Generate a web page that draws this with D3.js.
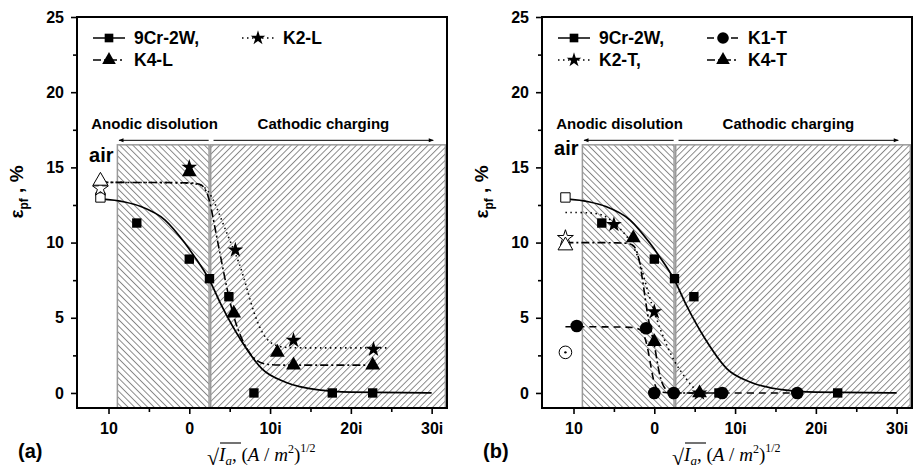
<!DOCTYPE html>
<html>
<head>
<meta charset="utf-8">
<script src="https://cdn.jsdelivr.net/npm/d3@7"></script>
<style>
  body { margin: 0; background: #fff; }
  svg { display: block; font-family: "Liberation Sans", Arial, sans-serif; }
</style>
</head>
<body>
<svg id="chart" width="913" height="472"></svg>
<script>
// ---- data ----
const xTicks = [-10, 0, 10, 20, 30];
const xTickLabels = ['10', '0', '10i', '20i', '30i'];
const xMinorTicks = [-5, 5, 15, 25];
const yTicks = [0, 5, 10, 15, 20, 25];
const yMinorTicks = [2.5, 7.5, 12.5, 17.5, 22.5];

// 9Cr-2W (same steel in both panels)
const cr9wPoints = [[-6.5, 11.3], [0, 8.9], [2.5, 7.6], [4.9, 6.4], [8, 0], [17.7, 0], [22.7, 0]];
const cr9wAir = [[-11, 13.0]];
const cr9wFit = [[-11, 12.9], [-8, 12.7], [-6, 12.4], [-3, 11.5], [-0.6, 10.0], [0.6, 9.1], [2.5, 7.5],
                 [4, 5.8], [6.4, 3.5], [9, 1.6], [12, 0.7], [16, 0.2], [20, 0.05], [30, 0]];

// panel (a) longitudinal
const k4LPoints = [[0, 14.7], [5.5, 5.3], [10.9, 2.7], [12.9, 1.85], [22.7, 1.85]];
const k4LAir = [[-11, 14.1]];
const k4LFit = [[-11, 14], [0.5, 14], [1.6, 13.9], [2.4, 13.2], [3.1, 11.2], [3.9, 9], [4.7, 6.8], [5.5, 5.0],
                [6.5, 3.5], [7.8, 2.3], [9.2, 1.85], [12, 1.85], [23.5, 1.85]];
const k2LPoints = [[0, 15.0], [5.7, 9.5], [12.9, 3.5], [22.8, 2.9]];
const k2LAir = [[-11, 13.6]];
const k2LFit = [[-11, 14], [0.5, 14], [1.8, 13.8], [2.8, 13.1], [3.8, 11.8], [4.8, 10.4], [5.7, 9.3], [6.6, 8],
                [7.6, 6], [8.6, 4.4], [9.7, 3.4], [11.2, 3.0], [14, 3.0], [24.5, 3.0]];

// panel (b) transverse
const k1TPoints = [[-9.6, 4.45], [-1.0, 4.3], [0, 0], [2.4, 0], [8.4, 0], [17.7, 0]];
const k1TAir = [[-11, 2.7]];
const k1TFit = [[-11, 4.4], [-3, 4.4], [-1.7, 4.3], [-1.1, 3.7], [-0.6, 2.4], [-0.2, 1.0], [0.3, 0.1], [1.2, 0], [5, 0], [17.7, 0]];
const k2TPoints = [[-5, 11.2], [0, 5.4], [5.6, 0]];
const k2TAir = [[-11, 10.3]];
const k2TFit = [[-11, 12], [-7.5, 12], [-6, 11.8], [-4.5, 11.1], [-3, 10.2], [-1.9, 9], [-1.2, 7.5], [-0.5, 6.2],
                [0, 5.4], [1, 3.8], [2.5, 2], [4, 0.9], [5, 0.2], [6, 0]];
const k4TPoints = [[-2.6, 10.3], [0, 3.4], [5.6, 0]];
const k4TAir = [[-11, 9.8]];
const k4TFit = [[-11, 10], [-3.5, 10], [-2.5, 9.9], [-1.9, 9.1], [-1.3, 7], [-0.7, 4.6], [0, 3.4], [0.5, 1.5],
                [1.1, 0.3], [2, 0], [4, 0], [7, 0]];

// shaded regions (data units)
const anodicRange = [-8.9, 2.45];
const cathodicRange = [2.65, 31.7];
const regionTop = 16.5;

// ---- layout ----
const config = {
    width: 913, height: 472,
    plotWidth: 370, plotHeight: 391, top: 17,
    panels: [
        { id: 'a', left: 77, label: '(a)', airY: 15.35,
          series: [
            { name: '9Cr-2W,', symbol: 'square', dash: null, pts: cr9wPoints, air: cr9wAir, fit: cr9wFit, lx: 93, ly: 38 },
            { name: 'K2-L', symbol: 'star', dash: '1.5,3.5', pts: k2LPoints, air: k2LAir, fit: k2LFit, lx: 242, ly: 38 },
            { name: 'K4-L', symbol: 'triangle', dash: '8,3,2,3', pts: k4LPoints, air: k4LAir, fit: k4LFit, lx: 93, ly: 60 }
          ] },
        { id: 'b', left: 542, label: '(b)', airY: 15.8,
          series: [
            { name: '9Cr-2W,', symbol: 'square', dash: null, pts: cr9wPoints.filter(d => d[0] !== 17.7), air: cr9wAir, fit: cr9wFit, lx: 558, ly: 38 },
            { name: 'K1-T', symbol: 'circle', dash: '7,5', pts: k1TPoints, air: k1TAir, fit: k1TFit, lx: 707, ly: 38 },
            { name: 'K2-T,', symbol: 'star', dash: '1.5,3.5', pts: k2TPoints, air: k2TAir, fit: k2TFit, lx: 558, ly: 60 },
            { name: 'K4-T', symbol: 'triangle', dash: '8,3,2,3', pts: k4TPoints, air: k4TAir, fit: k4TFit, lx: 707, ly: 60 }
          ] }
    ]
};

const symbolTypes = { square: d3.symbolSquare, star: d3.symbolStar, triangle: d3.symbolTriangle, circle: d3.symbolCircle };
const symbolSizes = { square: 88, star: 78, triangle: 95, circle: 125 };

const svg = d3.select('#chart');

// hatch patterns
const defs = svg.append('defs');
[['hatchBack', -45], ['hatchFwd', 45]].forEach(([id, ang]) => {
    defs.append('pattern')
        .attr('id', id)
        .attr('patternUnits', 'userSpaceOnUse')
        .attr('width', 4.6).attr('height', 10)
        .attr('patternTransform', `rotate(${ang})`)
      .append('line')
        .attr('x1', 0.5).attr('y1', 0).attr('x2', 0.5).attr('y2', 10)
        .attr('stroke', '#7a7a7a').attr('stroke-width', 0.9);
});
defs.append('marker')
    .attr('id', 'arrow')
    .attr('viewBox', '0 0 10 10')
    .attr('refX', 9).attr('refY', 5)
    .attr('markerWidth', 7).attr('markerHeight', 5)
    .attr('orient', 'auto')
  .append('path')
    .attr('d', 'M0,1 L10,5 L0,9 z')
    .attr('fill', '#000');

const y = d3.scaleLinear().domain([-1, 25]).range([config.top + config.plotHeight, config.top]);

config.panels.forEach(panel => {
    const x = d3.scaleLinear().domain([-13.9, 31.9]).range([panel.left, panel.left + config.plotWidth]);
    const g = svg.append('g');

    // hatched regions
    g.append('rect')
        .attr('x', x(anodicRange[0])).attr('y', y(regionTop))
        .attr('width', x(anodicRange[1]) - x(anodicRange[0]))
        .attr('height', y(-1) - y(regionTop))
        .attr('fill', 'url(#hatchBack)')
        .attr('stroke', '#9a9a9a').attr('stroke-width', 1.5);
    g.append('rect')
        .attr('x', x(cathodicRange[0])).attr('y', y(regionTop))
        .attr('width', x(cathodicRange[1]) - x(cathodicRange[0]))
        .attr('height', y(-1) - y(regionTop))
        .attr('fill', 'url(#hatchFwd)')
        .attr('stroke', '#9a9a9a').attr('stroke-width', 1.5);

    // axes
    const xAxis = d3.axisBottom(x).tickValues(xTicks)
        .tickFormat((d, i) => xTickLabels[i]).tickSize(6).tickPadding(9);
    const xMinor = d3.axisBottom(x).tickValues(xMinorTicks).tickFormat('').tickSize(4);
    const yAxis = d3.axisLeft(y).tickValues(yTicks).tickSize(6).tickPadding(7);
    const yMinor = d3.axisLeft(y).tickValues(yMinorTicks).tickFormat('').tickSize(4);

    const bottom = config.top + config.plotHeight;
    [xAxis, xMinor].forEach(ax => g.append('g').attr('class', 'axis')
        .attr('transform', `translate(0,${bottom})`).call(ax));
    [yAxis, yMinor].forEach(ax => g.append('g').attr('class', 'axis')
        .attr('transform', `translate(${panel.left},0)`).call(ax));
    g.selectAll('.axis .domain').remove();
    g.selectAll('.axis line').attr('stroke', '#000').attr('stroke-width', 1.6);
    g.selectAll('.axis text')
        .attr('font-size', 16).attr('font-weight', 'bold').attr('fill', '#000')
        .attr('font-family', '"Liberation Sans", Arial, sans-serif');

    // frame
    g.append('rect')
        .attr('x', panel.left).attr('y', config.top)
        .attr('width', config.plotWidth).attr('height', config.plotHeight)
        .attr('fill', 'none').attr('stroke', '#000').attr('stroke-width', 2);

    // region annotations
    g.append('line')
        .attr('x1', x(2.4)).attr('x2', x(-8.7)).attr('y1', y(16.8)).attr('y2', y(16.8))
        .attr('stroke', '#000').attr('stroke-width', 1).attr('marker-end', 'url(#arrow)');
    g.append('line')
        .attr('x1', x(3.0)).attr('x2', x(30.2)).attr('y1', y(16.8)).attr('y2', y(16.8))
        .attr('stroke', '#000').attr('stroke-width', 1).attr('marker-end', 'url(#arrow)');
    g.append('text').attr('x', x(-4.3)).attr('y', y(17.55))
        .attr('text-anchor', 'middle').attr('font-size', 15).attr('font-weight', 'bold')
        .text('Anodic disolution');
    g.append('text').attr('x', x(16.6)).attr('y', y(17.55))
        .attr('text-anchor', 'middle').attr('font-size', 15).attr('font-weight', 'bold')
        .text('Cathodic charging');
    g.append('text').attr('x', x(-12.4)).attr('y', y(panel.airY))
        .attr('font-size', 20).attr('font-weight', 'bold')
        .text('air');

    // fitted lines: solid fit passes through its points, dashed guides are smoothed
    const fitLine = d3.line().x(d => x(d[0])).y(d => y(d[1])).curve(d3.curveMonotoneX);
    const guideLine = d3.line().x(d => x(d[0])).y(d => y(d[1])).curve(d3.curveBasis);
    panel.series.forEach(s => {
        g.append('path')
            .datum(s.fit)
            .attr('d', s.dash ? guideLine : fitLine)
            .attr('fill', 'none').attr('stroke', '#000')
            .attr('stroke-width', s.dash ? 1.6 : 1.7)
            .attr('stroke-dasharray', s.dash);
    });

    // markers
    panel.series.forEach(s => {
        const sym = d3.symbol().type(symbolTypes[s.symbol]).size(symbolSizes[s.symbol]);
        g.selectAll(null).data(s.pts).join('path')
            .attr('transform', d => `translate(${x(d[0])},${y(d[1])})`)
            .attr('d', sym).attr('fill', '#000');
        g.selectAll(null).data(s.air).join('path')
            .attr('transform', d => `translate(${x(d[0])},${y(d[1])})`)
            .attr('d', sym).attr('fill', '#fff').attr('stroke', '#000').attr('stroke-width', 1);
        if (s.symbol === 'circle') {
            g.selectAll(null).data(s.air).join('circle')
                .attr('cx', d => x(d[0])).attr('cy', d => y(d[1])).attr('r', 1.2).attr('fill', '#000');
        }

        // legend entry
        g.append('line')
            .attr('x1', s.lx).attr('x2', s.lx + 32).attr('y1', s.ly).attr('y2', s.ly)
            .attr('stroke', '#000').attr('stroke-width', 1.5).attr('stroke-dasharray', s.dash);
        g.append('path')
            .attr('transform', `translate(${s.lx + 16},${s.ly})`)
            .attr('d', d3.symbol().type(symbolTypes[s.symbol]).size(symbolSizes[s.symbol] * 0.85)())
            .attr('fill', '#000');
        g.append('text')
            .attr('x', s.lx + 41).attr('y', s.ly).attr('dy', '0.36em')
            .attr('font-size', 17.5).attr('font-weight', 'bold')
            .text(s.name);
    });

    // y axis title
    const yt = g.append('text')
        .attr('transform', `translate(${panel.left - 54},192) rotate(-90)`)
        .attr('text-anchor', 'middle').attr('font-size', 19).attr('font-weight', 'bold');
    yt.append('tspan').text('ε');
    yt.append('tspan').attr('font-size', 12).attr('dy', 5).text('pf');
    yt.append('tspan').attr('dy', -5).text(' , %');

    // x axis title: sqrt(I_a), (A/m^2)^(1/2)
    const xt = g.append('g');
    const tx = g.append('text')
        .attr('x', x(0) + 72).attr('y', 461)
        .attr('text-anchor', 'middle')
        .attr('font-family', '"Liberation Serif", "Times New Roman", serif')
        .attr('font-size', 19);
    tx.append('tspan').attr('font-style', 'normal').attr('font-size', 22).attr('dy', 4).text('√');
    tx.append('tspan').attr('font-style', 'italic').attr('dy', -4).text('I');
    tx.append('tspan').attr('font-style', 'italic').attr('font-size', 13).attr('dy', 4).text('a');
    tx.append('tspan').attr('dy', -4).text(',  (');
    tx.append('tspan').attr('font-style', 'italic').text('A');
    tx.append('tspan').text(' / ');
    tx.append('tspan').attr('font-style', 'italic').text('m');
    tx.append('tspan').attr('font-size', 12).attr('dy', -8).text('2');
    tx.append('tspan').attr('dy', 8).text(')');
    tx.append('tspan').attr('font-size', 12).attr('dy', -9).text('1/2');

    // overline of the radical, measured from the rendered text
    const bb = tx.node().getBBox();
    const rootW = 13;
    xt.append('line')
        .attr('x1', bb.x + rootW).attr('x2', bb.x + rootW + 21)
        .attr('y1', bb.y + 2).attr('y2', bb.y + 2)
        .attr('stroke', '#000').attr('stroke-width', 1.1);

    // panel label
    g.append('text')
        .attr('x', panel.left - 59).attr('y', 458)
        .attr('font-size', 20).attr('font-weight', 'bold')
        .text(panel.label);
});
</script>
</body>
</html>
